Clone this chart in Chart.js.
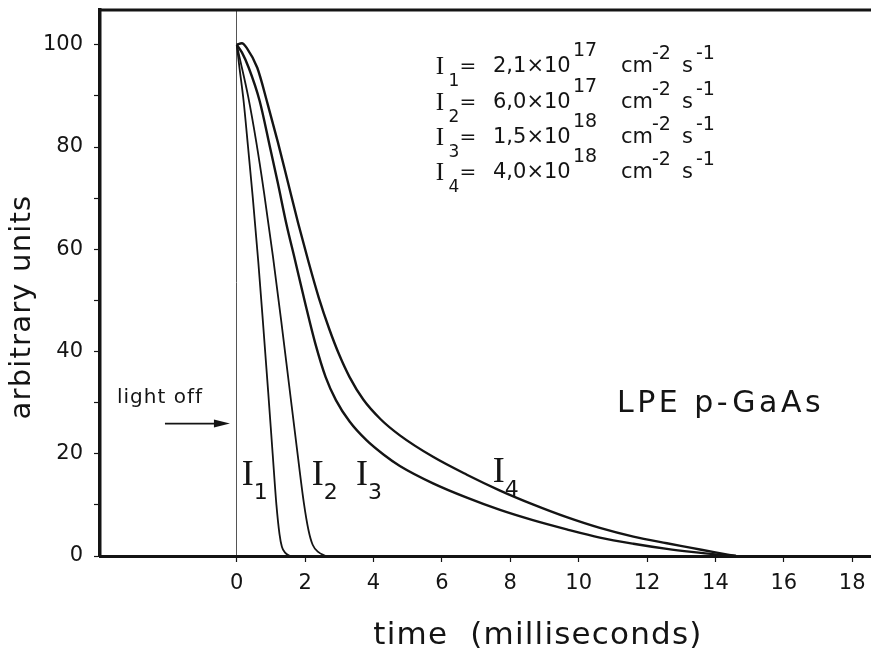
<!DOCTYPE html>
<html>
<head>
<meta charset="utf-8">
<title>LPE p-GaAs decay</title>
<script src="https://cdn.jsdelivr.net/npm/chart.js@4/dist/chart.umd.min.js"></script>
<style>
  html, body { margin: 0; padding: 0; background: #fff; }
  #wrap { width: 871px; height: 660px; }
</style>
</head>
<body>
<div id="wrap"><canvas id="chartDecay" width="871" height="660"></canvas></div>
<script>
// 1. Values (time in ms, signal in arbitrary units)
const i1Time   = [0, 0.07, 0.2, 0.33, 0.47, 0.63, 0.78, 0.92, 1.05, 1.16, 1.25, 1.32, 1.42, 1.55];
const i1Signal = [100, 96, 89, 80, 70, 57.5, 44.5, 32, 20, 10, 4.3, 1.8, 0.6, 0];

const i2Time   = [0, 0.1, 0.33, 0.57, 0.8, 1.06, 1.3, 1.53, 1.76, 1.96, 2.1, 2.22, 2.38, 2.6];
const i2Signal = [100, 97, 90, 81, 71, 58.5, 46, 33.5, 21, 10.5, 5, 2.2, 0.8, 0];

const i3Time   = [0, 0.15, 0.35, 0.67, 0.97, 1.2, 1.45, 1.7, 2.0, 2.3, 2.6, 2.9, 3.3, 3.8, 4.3, 4.77, 5.74, 6.73, 7.7, 8.66, 9.65, 10.62, 11.6, 12.58, 13.3, 14.0, 14.6];
const i3Signal = [100, 98.5, 95.5, 89, 80, 73, 65, 58, 49.5, 41.5, 35, 30.5, 26.3, 22.6, 19.8, 17.6, 14.2, 11.4, 9.0, 7.0, 5.2, 3.6, 2.4, 1.4, 0.8, 0.3, 0];

const i4Time   = [0, 0.15, 0.3, 0.6, 0.9, 1.2, 1.5, 1.8, 2.1, 2.4, 2.7, 3.0, 3.3, 3.7, 4.2, 4.77, 5.74, 6.73, 7.7, 8.66, 9.65, 10.62, 11.6, 12.58, 13.3, 14.0, 14.6];
const i4Signal = [100, 100.3, 99.3, 95.5, 88.5, 81, 73, 65, 57.5, 50.5, 44.5, 39.3, 35, 30.6, 26.8, 23.6, 19.4, 15.9, 12.8, 10.1, 7.6, 5.5, 3.8, 2.5, 1.6, 0.7, 0];

const xTicks = [0, 2, 4, 6, 8, 10, 12, 14, 16, 18];
const yTicks = [0, 10, 20, 30, 40, 50, 60, 70, 80, 90, 100];
const yTickLabels = [0, 20, 40, 60, 80, 100];

const seriesNames = ['1', '2', '3', '4'];
const intensityMantissa = ['2,1', '6,0', '1,5', '4,0'];
const intensityExponent = ['17', '17', '18', '18'];

const INK = '#141414';
const SANS = '"DejaVu Sans", sans-serif';
const SERIF = '"Liberation Serif", "DejaVu Serif", serif';

function toPoints(times, values) {
    return times.map((t, i) => ({ x: t, y: values[i] }));
}

function curve(times, values, width) {
    return {
        data: toPoints(times, values),
        borderColor: INK,
        borderWidth: width,
        pointRadius: 0,
        fill: false,
        cubicInterpolationMode: 'monotone'
    };
}

// 2. Text drawn over the plot: legend block, curve labels, arrow, axis titles
function drawText(ctx, text, x, y, font, align) {
    ctx.font = font;
    ctx.textAlign = align || 'left';
    ctx.fillText(text, x, y);
}

const annotations = {
    id: 'annotations',
    afterDraw(chart) {
        const { ctx, chartArea } = chart;
        const xs = chart.scales.x;
        const ys = chart.scales.y;
        ctx.save();
        ctx.fillStyle = INK;
        ctx.strokeStyle = INK;

        // top frame
        ctx.lineWidth = 3;
        ctx.beginPath();
        ctx.moveTo(chartArea.left - 1.5, chartArea.top);
        ctx.lineTo(chartArea.right, chartArea.top);
        ctx.stroke();

        // intensity legend
        ctx.textBaseline = 'middle';
        const rowY = [67, 103, 138, 173];
        seriesNames.forEach((n, i) => {
            const yc = rowY[i];
            drawText(ctx, 'I', 440, yc, '25px ' + SERIF, 'center');
            drawText(ctx, n, 454, yc + 15, '17px ' + SANS, 'center');
            drawText(ctx, '=', 468, yc, '20px ' + SANS, 'center');
            drawText(ctx, intensityMantissa[i] + '×10', 493, yc, '21px ' + SANS);
            drawText(ctx, intensityExponent[i], 573, yc - 16, '19px ' + SANS);
            drawText(ctx, 'cm', 621, yc, '21px ' + SANS);
            drawText(ctx, '-2', 652, yc - 13, '19px ' + SANS);
            drawText(ctx, 's', 682, yc, '21px ' + SANS);
            drawText(ctx, '-1', 696, yc - 13, '19px ' + SANS);
        });

        // sample name
        ctx.letterSpacing = '3.5px';
        drawText(ctx, 'LPE p-GaAs', 617, 404, '30px ' + SANS);
        ctx.letterSpacing = '0px';

        // curve labels, placed in data units
        const curveLabels = [[0.32, 15.7], [2.37, 15.7], [3.66, 15.7], [7.66, 16.3]];
        curveLabels.forEach((p, i) => {
            const px = xs.getPixelForValue(p[0]);
            const py = ys.getPixelForValue(p[1]);
            drawText(ctx, 'I', px, py, '36px ' + SERIF, 'center');
            drawText(ctx, seriesNames[i], px + 13, py + 18, '22px ' + SANS, 'center');
        });

        // "light off" arrow
        ctx.letterSpacing = '1px';
        drawText(ctx, 'light off', 117, 398, '20px ' + SANS);
        ctx.letterSpacing = '0px';
        const ay = ys.getPixelForValue(25.9);
        const ax0 = xs.getPixelForValue(-2.1);
        const ax1 = xs.getPixelForValue(-0.2);
        ctx.lineWidth = 1.6;
        ctx.beginPath();
        ctx.moveTo(ax0, ay);
        ctx.lineTo(ax1 - 12, ay);
        ctx.stroke();
        ctx.beginPath();
        ctx.moveTo(ax1, ay);
        ctx.lineTo(ax1 - 16, ay - 4);
        ctx.lineTo(ax1 - 16, ay + 4);
        ctx.closePath();
        ctx.fill();

        // axis titles
        ctx.letterSpacing = '1.2px';
        drawText(ctx, 'time  (milliseconds)', 538, 636, '31px ' + SANS, 'center');
        ctx.translate(22, 307);
        ctx.rotate(-Math.PI / 2);
        drawText(ctx, 'arbitrary units', 0, 0, '29px ' + SANS, 'center');
        ctx.restore();
    }
};

// 3. Chart
const ctx = document.getElementById('chartDecay').getContext('2d');
new Chart(ctx, {
    type: 'line',
    data: {
        datasets: [
            curve(i1Time, i1Signal, 1.8),
            curve(i2Time, i2Signal, 1.8),
            curve(i3Time, i3Signal, 2.4),
            curve(i4Time, i4Signal, 2.4)
        ]
    },
    options: {
        responsive: false,
        animation: false,
        layout: { padding: { top: 10, right: 0, left: 0, bottom: 0 } },
        plugins: {
            legend: { display: false },
            tooltip: { enabled: false }
        },
        scales: {
            x: {
                type: 'linear',
                min: -4,
                max: 18.55,
                afterFit: (scale) => {
                    scale.height = 104;
                    scale.paddingLeft = 0;
                    scale.paddingRight = 0;
                },
                afterBuildTicks: (scale) => { scale.ticks = xTicks.map(v => ({ value: v })); },
                border: { color: INK, width: 3 },
                grid: {
                    color: (c) => (c.tick && c.tick.value === 0 ? '#555' : 'rgba(0,0,0,0)'),
                    lineWidth: 1,
                    tickColor: INK,
                    tickLength: 6,
                    tickWidth: 1.2
                },
                ticks: {
                    color: INK,
                    padding: 9,
                    maxRotation: 0,
                    font: { family: SANS, size: 21 }
                }
            },
            y: {
                min: 0,
                max: 106.8,
                afterFit: (scale) => {
                    scale.width = 100;
                    scale.paddingTop = 0;
                    scale.paddingBottom = 0;
                },
                afterBuildTicks: (scale) => { scale.ticks = yTicks.map(v => ({ value: v })); },
                border: { color: INK, width: 3.5 },
                grid: {
                    drawOnChartArea: false,
                    tickColor: INK,
                    tickLength: 6,
                    tickWidth: 1.2
                },
                ticks: {
                    color: INK,
                    padding: 11,
                    font: { family: SANS, size: 21 },
                    callback: (v) => (yTickLabels.includes(v) ? String(v) : '')
                }
            }
        }
    },
    plugins: [annotations]
});
</script>
</body>
</html>
